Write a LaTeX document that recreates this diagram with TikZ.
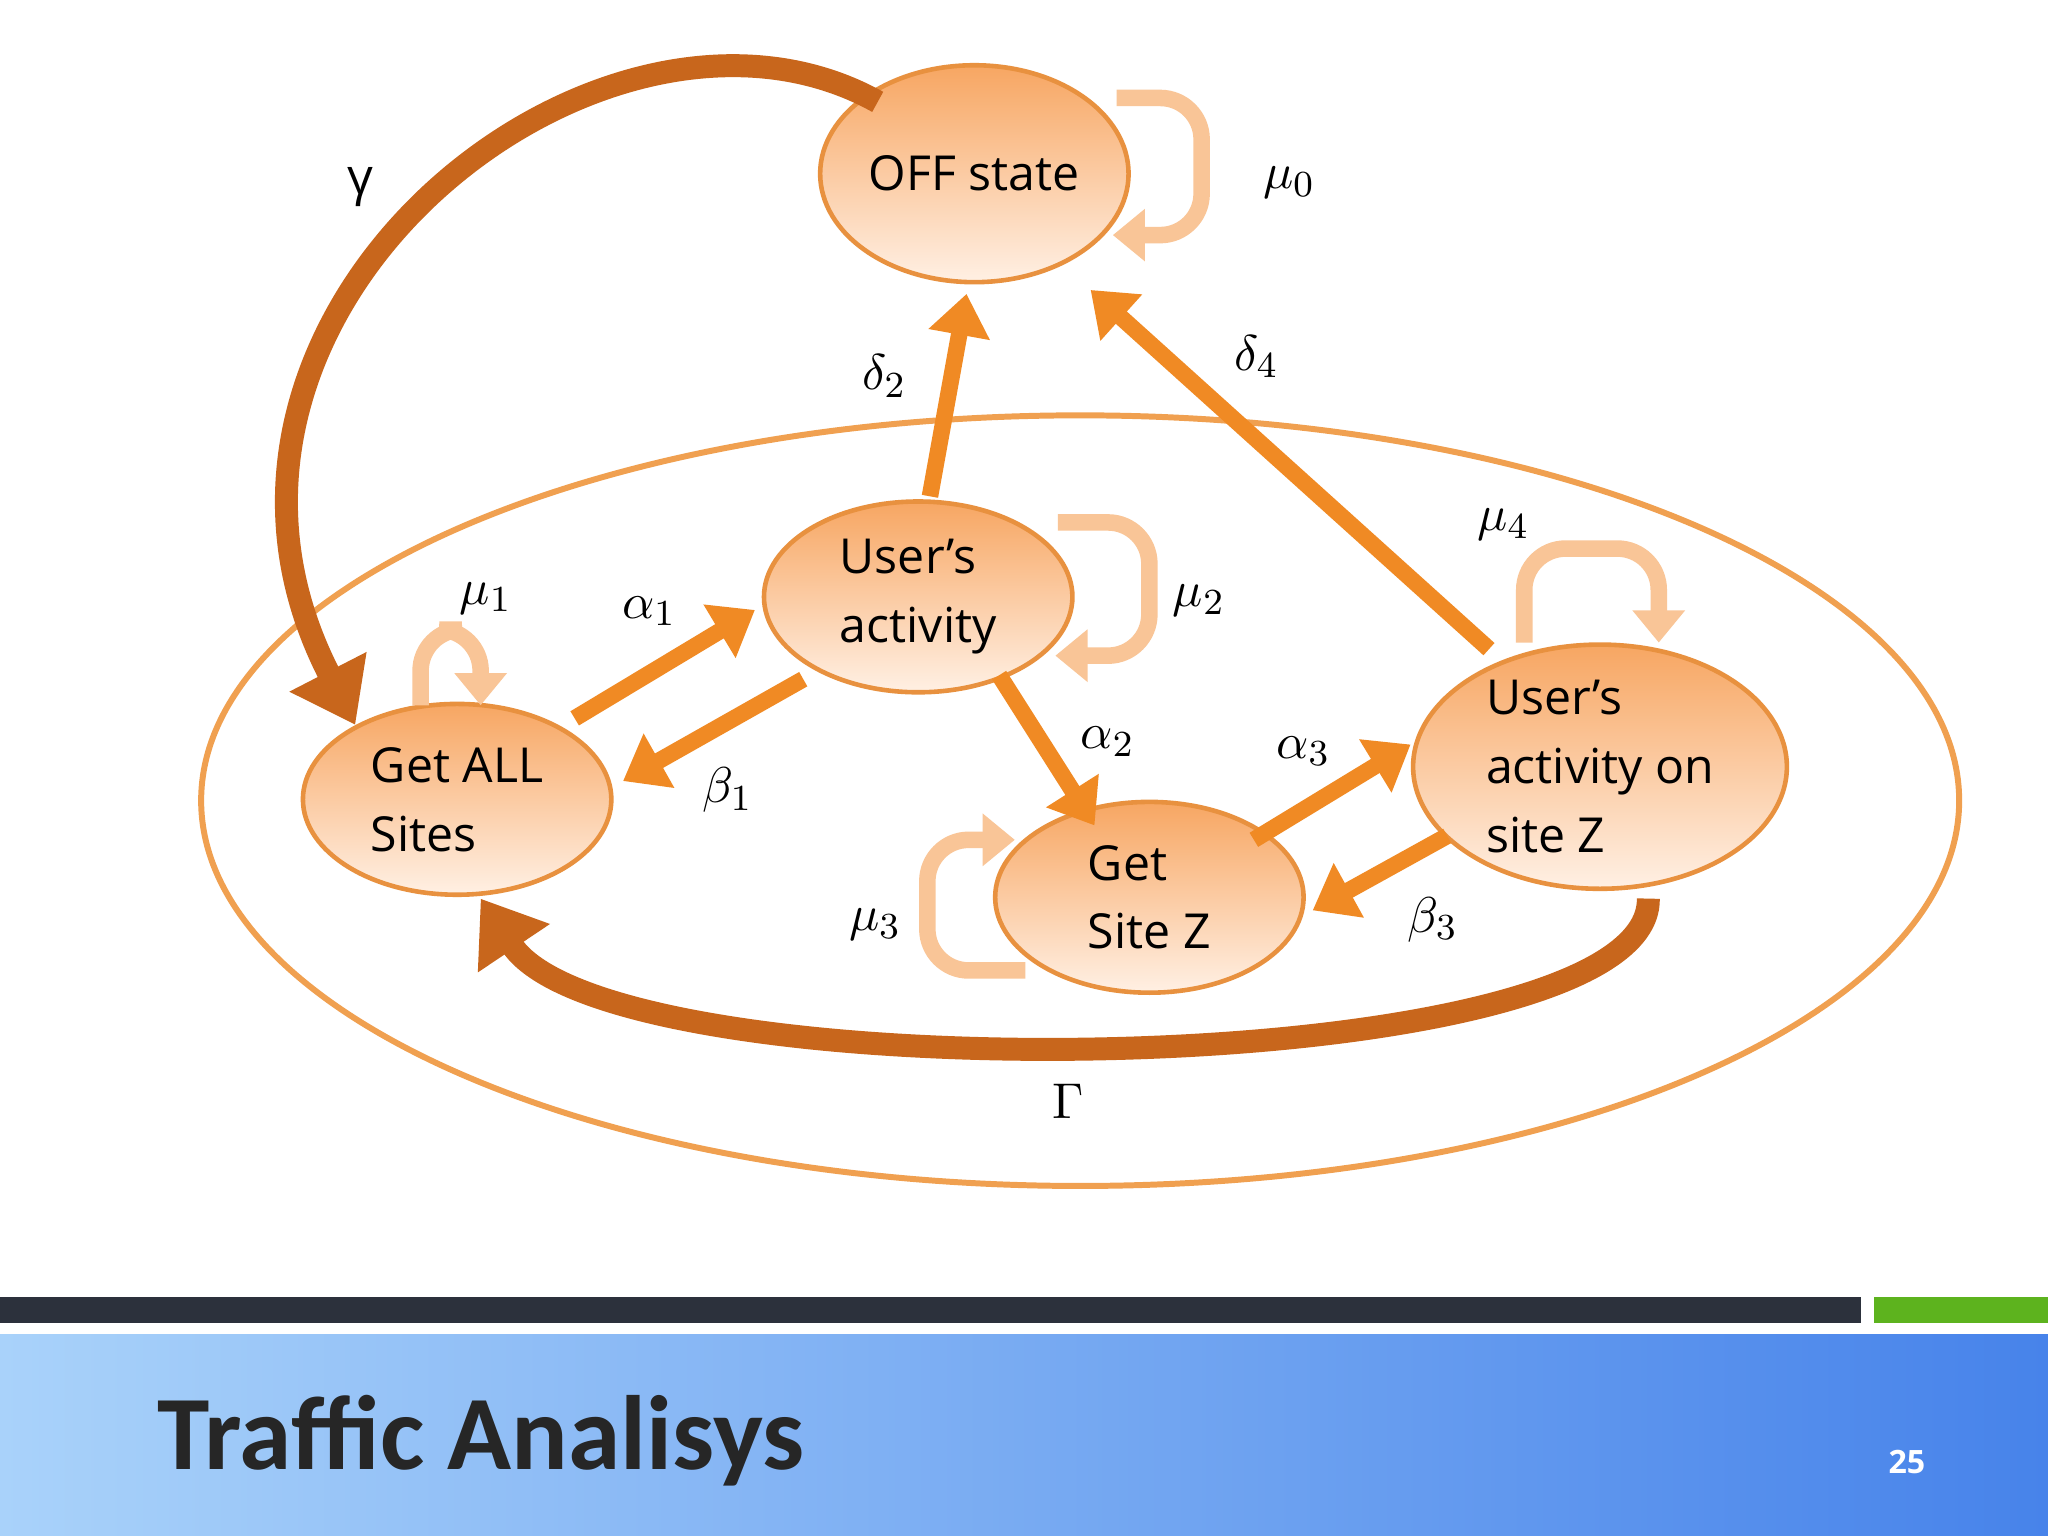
\documentclass[tikz,border=0pt]{standalone}
\usepackage{fontspec}
\setmainfont{Open Sans}
\newfontfamily\titlefont{Carlito}
\usetikzlibrary{shapes.geometric,arrows.meta}
\definecolor{nodeedge}{HTML}{E8913F}
\definecolor{nodetop}{HTML}{F7A662}
\definecolor{nodebot}{HTML}{FFF0E4}
\definecolor{arrfill}{HTML}{F08A24}
\definecolor{arrdark}{HTML}{C8661C}
\definecolor{loopc}{HTML}{F9C597}
\definecolor{bigell}{HTML}{F0A050}
\definecolor{darkbar}{HTML}{2C313C}
\definecolor{greenbar}{HTML}{5DB31E}
\definecolor{blueL}{HTML}{A9D2FA}
\definecolor{blueR}{HTML}{4783EA}
\tikzset{
 st/.style={ellipse, draw=nodeedge, line width=1pt, top color=nodetop, bottom color=nodebot, inner sep=0pt, align=left, font=\fontsize{10.5}{15}\selectfont},
 bigarr/.style={draw=arrfill, line width=3.6pt, -{Triangle[length=9pt,width=13pt]}},
 curvarr/.style={draw=arrdark, line width=5pt, -{Triangle[length=13pt,width=18pt]}},
 loopar/.style={draw=loopc, line width=3.6pt, rounded corners=9pt, -{Triangle[length=7pt,width=11pt]}},
 lbl/.style={font=\fontsize{11}{13}\selectfont}
}
\begin{document}
\begin{tikzpicture}[x=0.01cm,y=-0.01cm]
\useasboundingbox (0,0) rectangle (1568,1176);
\fill[white] (0,0) rectangle (1568,1176);
% bottom bars
\fill[darkbar] (0,993) rectangle (1425,1013);
\fill[greenbar] (1435,993) rectangle (1568,1013);
\shade[left color=blueL, right color=blueR] (0,1022) rectangle (1568,1176);
\node[anchor=base west, font=\fontsize{23}{28}\selectfont\titlefont\bfseries, text=black!85, inner sep=0pt] (title) at (120,1125) {Traffic Analisys};
\node[anchor=base, font=\fontsize{7}{8}\selectfont\bfseries, text=white] (pg) at (1460,1128) {25};
% big ellipse
\draw[bigell, line width=1.3pt] (827,613) ellipse [x radius=673, y radius=295];
% nodes
\node[st, minimum width=2.36cm, minimum height=1.66cm] (off) at (746,133) {OFF state};
\node[st, minimum width=2.36cm, minimum height=1.46cm] (ua) at (703,457) {User’s\\activity};
\node[st, minimum width=2.36cm, minimum height=1.46cm] (all) at (350,612) {Get ALL\\Sites};
\node[st, minimum width=2.36cm, minimum height=1.46cm] (gz) at (880,687) {Get\\Site Z};
\node[st, minimum width=2.86cm, minimum height=1.86cm] (uz) at (1225,587) {User’s\\activity on\\site Z};
% coordinates
\coordinate (d2s) at (712,380); \coordinate (d2e) at (740,225);
\coordinate (d4s) at (1140,497); \coordinate (d4e) at (835,222);
\coordinate (a1s) at (440,550); \coordinate (a1e) at (578,467);
\coordinate (b1s) at (615,520); \coordinate (b1e) at (477,598);
\coordinate (a2s) at (765,517); \coordinate (a2e) at (838,632);
\coordinate (a3s) at (960,643); \coordinate (a3e) at (1080,570);
\coordinate (b3s) at (1108,640); \coordinate (b3e) at (1005,697);
\draw[bigarr] (d2s) -- (d2e);
\draw[bigarr] (d4s) -- (d4e);
\draw[bigarr] (a1s) -- (a1e);
\draw[bigarr] (b1s) -- (b1e);
\draw[bigarr] (a2s) -- (a2e);
\draw[bigarr] (a3s) -- (a3e);
\draw[bigarr] (b3s) -- (b3e);
% curved arrows
\coordinate (gs) at (672,78); \coordinate (ge) at (272,555);
\draw[curvarr] (gs) .. controls (460,-40) and (110,240) .. (ge);
\coordinate (Gs) at (1262,688); \coordinate (Ge) at (368,688);
\draw[curvarr] (Gs) .. controls (1265,830) and (470,840) .. (Ge);
% loops
\draw[loopar] (855,75) -- (920,75) -- (920,180) -- (852,180);
\draw[loopar] (322,540) -- (322,482) -- (368,482) -- (368,540);
\draw[loopar] (810,400) -- (880,400) -- (880,502) -- (808,502);
\draw[loopar] (785,743) -- (710,743) -- (710,643) -- (777,643);
\draw[loopar] (1167,492) -- (1167,420) -- (1270,420) -- (1270,492);
% labels
\node[lbl] (lm0) at (987,140) {$\mu_0$};
\node[lbl] (ld2) at (677,288) {$\delta_2$};
\node[lbl] (ld4) at (962,273) {$\delta_4$};
\node[lbl] (lm1) at (372,458) {$\mu_1$};
\node[lbl] (la1) at (497,468) {$\alpha_1$};
\node[lbl] (lm2) at (918,460) {$\mu_2$};
\node[lbl] (lb1) at (557,605) {$\beta_1$};
\node[lbl] (la2) at (848,568) {$\alpha_2$};
\node[lbl] (la3) at (998,575) {$\alpha_3$};
\node[lbl] (lm3) at (670,708) {$\mu_3$};
\node[lbl] (lb3) at (1097,704) {$\beta_3$};
\node[lbl] (lm4) at (1151,402) {$\mu_4$};
\node[lbl] (lg) at (276,143) {γ};
\node[lbl] (lG) at (818,843) {$\Gamma$};
\end{tikzpicture}
\end{document}
